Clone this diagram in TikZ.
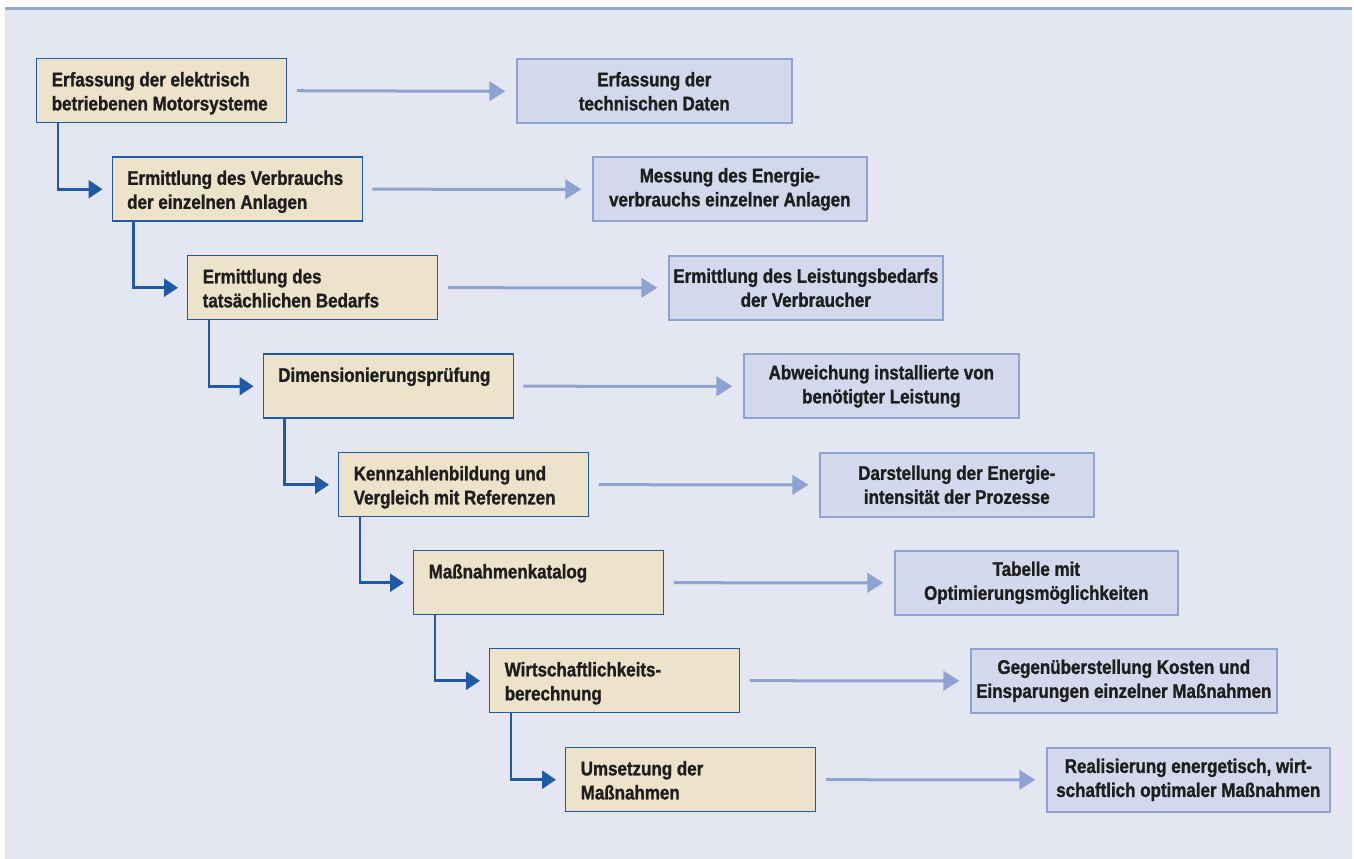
\documentclass[tikz,border=0pt]{standalone}
\usepackage{fontspec}
\setmainfont{Liberation Sans}[FakeStretch=0.86, BoldFeatures={FakeBold=1.2}]
\usetikzlibrary{arrows.meta}
\definecolor{bgc}{HTML}{E4E6F2}
\definecolor{topline}{HTML}{93A5D3}
\definecolor{tanf}{HTML}{ECE3CA}
\definecolor{darkb}{HTML}{1F5AA6}
\definecolor{lightf}{HTML}{D3D8EC}
\definecolor{lightb}{HTML}{8FA3D2}
\definecolor{txt}{HTML}{1E1E1E}
\newcommand{\lefttext}[1]{\parbox[c][48pt][t]{165pt}{\vspace*{10pt}\raggedright #1}}
\tikzset{
  lbox/.style={draw=darkb, line width=1.1pt, fill=tanf, anchor=north west,
    inner xsep=11.25pt, inner ysep=0pt, minimum width=187.5pt, minimum height=48pt,
    font=\bfseries\fontsize{14.8}{18}\selectfont, text=txt},
  rbox/.style={draw=lightb, line width=1.2pt, fill=lightf, anchor=north west,
    align=center, inner sep=2pt, minimum height=48pt,
    font=\bfseries\fontsize{14.8}{18}\selectfont, text=txt},
  lconn/.style={draw=lightb, line width=2.25pt, -{Triangle[length=12pt,width=14.5pt]}},
  dconn/.style={draw=darkb, line width=2pt, -{Triangle[length=10.5pt,width=13.5pt]}}
}
\begin{document}
\begin{tikzpicture}[x=0.75pt,y=-0.75pt]
\useasboundingbox (0,0) rectangle (1354,859);
\fill[bgc] (5,7) rectangle (1352,859);
\draw[topline, line width=2.25pt] (5,8.5) -- (1352,8.5);

% left chain
\node[lbox] (l1) at (36,58) {\lefttext{Erfassung der elektrisch\\betriebenen Motorsysteme}};
\node[lbox] (l2) at (111.5,156.5) {\lefttext{Ermittlung des Verbrauchs\\der einzelnen Anlagen}};
\node[lbox] (l3) at (187,255) {\lefttext{Ermittlung des\\tatsächlichen Bedarfs}};
\node[lbox] (l4) at (262.5,353.5) {\lefttext{Dimensionierungsprüfung}};
\node[lbox] (l5) at (338,452) {\lefttext{Kennzahlenbildung und\\Vergleich mit Referenzen}};
\node[lbox] (l6) at (413,550) {\lefttext{Maßnahmenkatalog}};
\node[lbox] (l7) at (489,648) {\lefttext{Wirtschaftlichkeits-\\berechnung}};
\node[lbox] (l8) at (565,747) {\lefttext{Umsetzung der\\Maßnahmen}};

% right boxes
\node[rbox, minimum width=206.25pt] (r1) at (516,58.5) {Erfassung der\\technischen Daten};
\node[rbox, minimum width=205.5pt] (r2) at (592,156.5) {Messung des Energie-\\verbrauchs einzelner Anlagen};
\node[rbox, minimum width=205.5pt] (r3) at (668,255) {Ermittlung des Leistungsbedarfs\\der Verbraucher};
\node[rbox, minimum width=206.25pt] (r4) at (743,353.5) {Abweichung installierte von\\benötigter Leistung};
\node[rbox, minimum width=205.5pt] (r5) at (819,452) {Darstellung der Energie-\\intensität der Prozesse};
\node[rbox, minimum width=212.25pt] (r6) at (894,550) {Tabelle mit\\Optimierungsmöglichkeiten};
\node[rbox, minimum width=229.5pt] (r7) at (970,648) {Gegenüberstellung Kosten und\\Einsparungen einzelner Maßnahmen};
\node[rbox, minimum width=212.25pt] (r8) at (1046,747) {Realisierung energetisch, wirt-\\schaftlich optimaler Maßnahmen};

% horizontal light connectors
\foreach \i in {1,...,8}{
  \draw[lconn] ([xshift=7pt]l\i.east) -- ([xshift=-8pt]r\i.west);
}
% dark step connectors
\foreach \i/\j in {1/2,2/3,3/4,4/5,5/6,6/7,7/8}{
  \draw[dconn] ([xshift=16.5pt]l\i.south west) |- ([xshift=-6.75pt]l\j.west);
}
\end{tikzpicture}
\end{document}
